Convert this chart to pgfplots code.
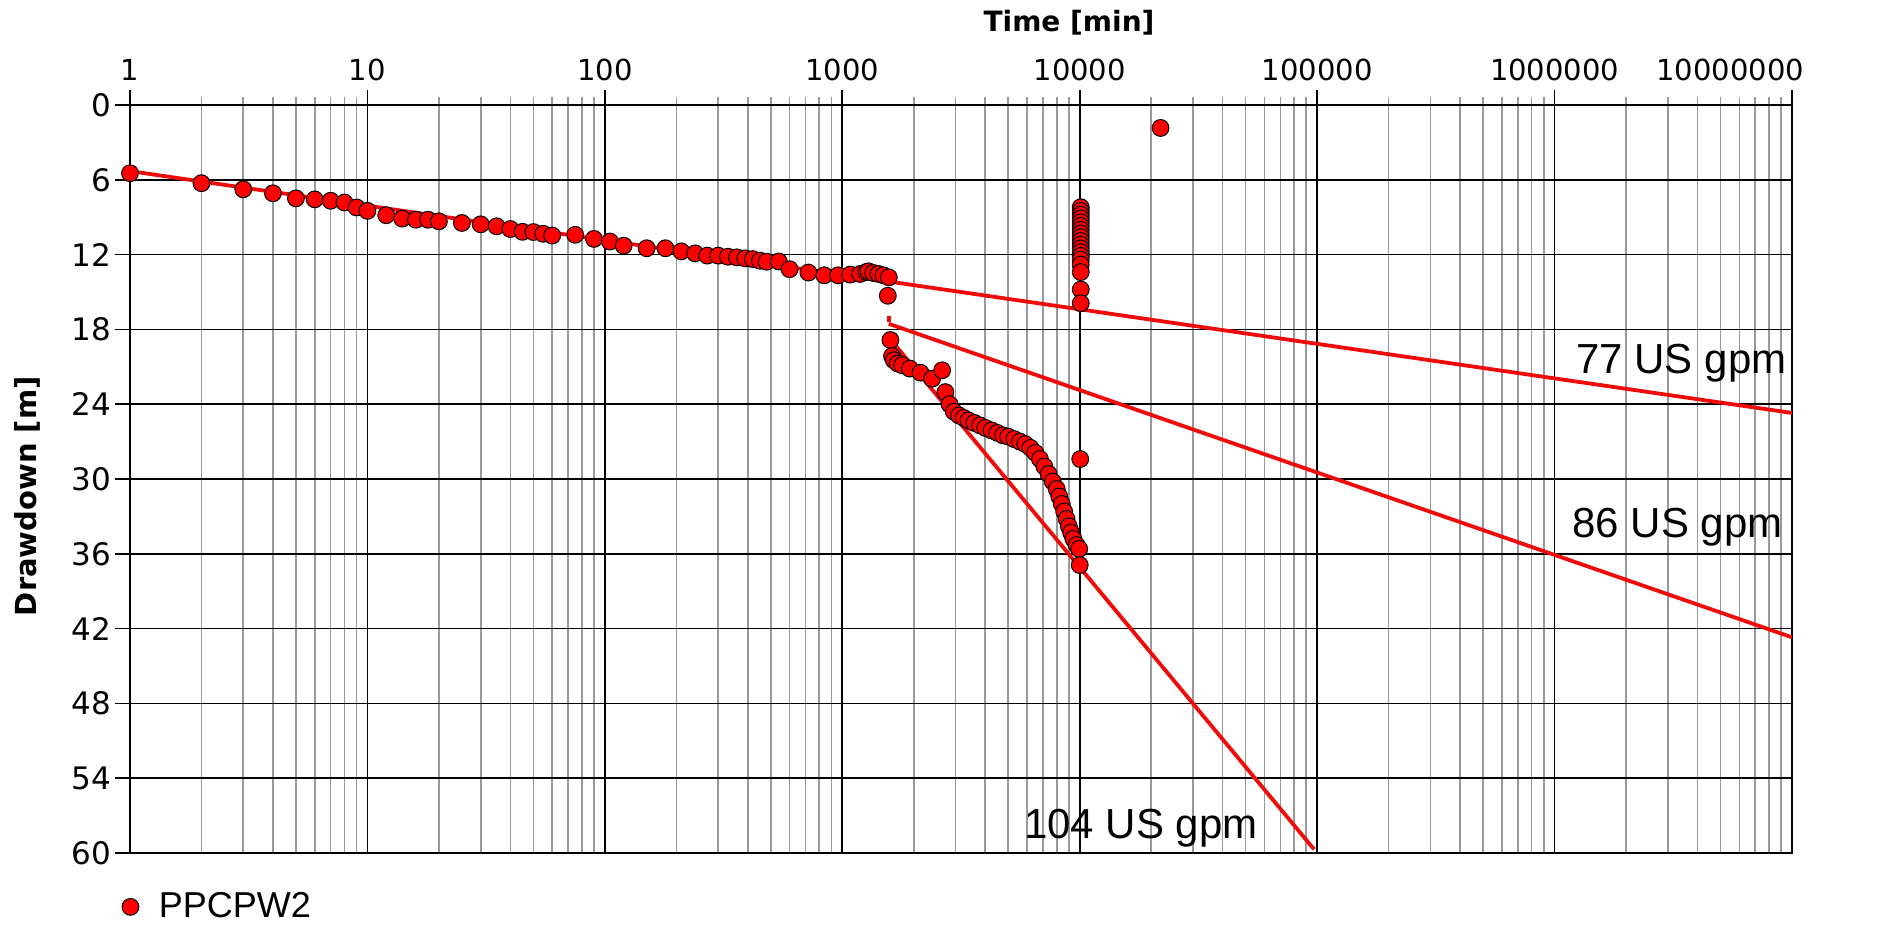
\documentclass[border=0pt]{standalone}
\usepackage{fontspec}
\setmainfont{DejaVu Sans}
\newfontfamily\arialfont{Liberation Sans}
\usepackage{pgfplots}
\pgfplotsset{compat=1.18}

\definecolor{linered}{RGB}{240,10,10}

\begin{document}
\begin{tikzpicture}
\begin{axis}[
  at={(0,0)}, anchor=south west,
  scale only axis, width=831pt, height=374pt,
  xmode=log, xmin=1, xmax=1e7,
  ymin=0, ymax=60, y dir=reverse,
  xtick={1,10,100,1000,10000,100000,1000000,10000000},
  xticklabels={1,10,100,1000,10000,100000,1000000,\makebox[0pt][r]{10000000\hspace*{-6pt}}},
  ytick={0,6,12,18,24,30,36,42,48,54,60},
  yticklabels={0,6,12,18,24,30,36,42,48,54,60},
  xtick pos=right, xticklabel pos=right, ytick pos=left,
  tick align=outside,
  major tick length=7.5pt, minor tick length=4pt,
  grid=both,
  major grid style={black, line width=0.8pt},
  minor grid style={black!40, line width=0.8pt},
  axis line style={black, line width=0.8pt},
  tick style={black, line width=0.8pt},
  minor tick style={black!40},
  ticklabel style={font=\fontsize{14.5}{16}\selectfont},
  xticklabel style={yshift=1pt},
  yticklabel style={xshift=1.5pt, font=\fontsize{15.5}{17}\selectfont},
  xlabel={\textbf{Time [min]}},
  ylabel={\textbf{Drawdown [m]}},
  label style={font=\fontsize{14.5}{17}\selectfont},
  xlabel style={at={(axis description cs:0.565,1.11)}, anchor=center, font=\fontsize{14}{17}\selectfont},
  ylabel style={at={(axis description cs:-0.0617,0.477)}, anchor=center},
  legend style={draw=none, fill=none, at={(axis description cs:-0.005,-0.072)}, anchor=west,
    font=\arialfont\fontsize{18}{20}\selectfont, inner sep=0pt,
    /tikz/every odd column/.append style={column sep=8pt}},
  legend image code/.code={\draw[#1] plot coordinates {(0pt,0pt)};},
]

% measured drawdown
\addplot[only marks, mark=*, mark size=4.2pt,
  mark options={fill=red, draw=black, line width=0.5pt}] coordinates {
  (1,5.47) (2,6.27) (3,6.76) (4,7.08) (5,7.49) (6,7.57) (7,7.68) (8,7.82) (9,8.22) (10,8.49)
  (12,8.84) (14,9.11) (16,9.2) (18,9.2) (20,9.33) (25,9.46) (30,9.57) (35,9.73) (40,9.95)
  (45,10.17) (50,10.19) (55,10.33) (60,10.47) (75,10.41) (90,10.74) (105,10.95) (120,11.28)
  (150,11.49) (180,11.49) (210,11.74) (240,11.9) (270,12.08) (300,12.08) (330,12.17)
  (360,12.22) (390,12.3) (420,12.36) (450,12.49) (480,12.57) (540,12.55) (600,13.17)
  (720,13.44) (840,13.66) (960,13.66) (1080,13.6) (1190,13.55) (1260,13.4) (1290,13.34)
  (1350,13.47) (1420,13.55) (1490,13.66) (1570,13.82) (1555,15.3)
  (1595,18.85) (1620,20.14) (1648,20.47) (1713,20.74) (1787,20.87) (1925,21.14)
  (2134,21.47) (2390,21.95) (2633,21.28) (2717,23.03) (2830,24.0)
  (2950,24.6) (3100,24.9) (3250,25.1) (3400,25.3) (3600,25.5) (3800,25.7) (4000,25.9)
  (4250,26.1) (4500,26.3) (4750,26.5) (5000,26.6) (5300,26.8) (5600,27.0) (5900,27.2)
  (6200,27.5) (6500,27.9) (6800,28.4) (7100,29.0) (7400,29.6) (7700,30.2) (8000,30.8)
  (8200,31.4) (8400,32.0) (8600,32.6) (8800,33.2) (9000,33.8) (9200,34.3) (9400,34.8)
  (9700,35.3) (9950,35.6) (10000,36.9) (10050,28.4)
  (10100,8.2) (10100,8.5) (10100,8.8) (10100,9.1) (10100,9.4) (10100,9.7) (10100,10.0)
  (10100,10.3) (10100,10.6) (10100,10.9) (10100,11.2) (10100,11.5) (10100,11.8)
  (10100,12.1) (10100,12.4) (10100,12.8) (10100,13.4) (10100,14.8) (10100,15.9)
  (21900,1.84)
};
\addlegendentry{PPCPW2}

% straight-line fits
\addplot[forget plot, linered, line width=1.9pt] coordinates {(1,5.3) (10000000,24.7)};
\addplot[forget plot, linered, line width=1.9pt] coordinates {(1570,17.55) (10000000,42.7)};
\addplot[forget plot, linered, line width=1.9pt] coordinates {(1600,18.83) (97000,59.7)};
\addplot[forget plot, linered, line width=1.9pt] coordinates {(1570,16.9) (1570,17.4)};

\node[font=\arialfont\fontsize{21}{24}\selectfont] at (axis cs:3.42e6,20.7) {77 US gpm};
\node[font=\arialfont\fontsize{21}{24}\selectfont] at (axis cs:3.3e6,33.9) {86 US gpm};
\node[font=\arialfont\fontsize{21}{24}\selectfont] at (axis cs:1.81e4,58.0) {104 US gpm};
\end{axis}
\path (-65pt,-37.5pt) rectangle (876pt,426.5pt);
\end{tikzpicture}
\end{document}
